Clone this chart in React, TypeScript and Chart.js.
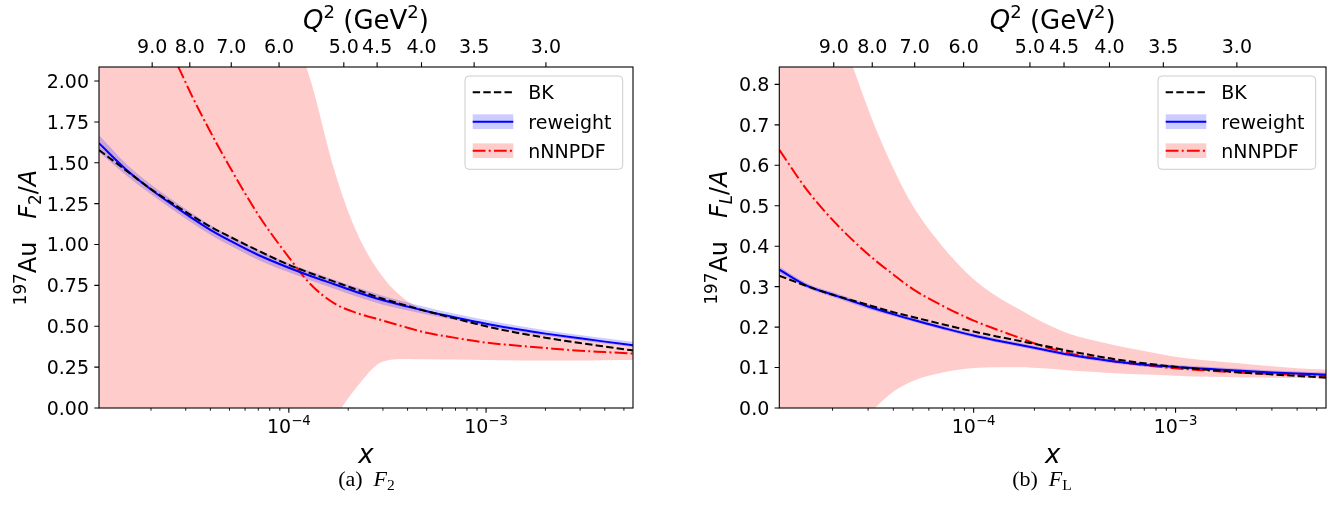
import React, { useEffect, useRef } from "react";
import { Chart, registerables } from "chart.js";

Chart.register(...registerables);

// ---------------- data ----------------
const X_GRID = [
  1.09e-5, 1.5e-5, 2e-5, 3e-5, 4e-5, 5e-5, 7e-5, 1e-4, 1.3e-4, 1.7e-4, 2.2e-4,
  3e-4, 4e-4, 5e-4, 7e-4, 1e-3, 1.5e-3, 2e-3, 3e-3, 4e-3, 5.56e-3,
];

// F2 panel
const F2_BK = [1.578, 1.452, 1.339, 1.2, 1.109, 1.049, 0.962, 0.876, 0.823, 0.773, 0.725, 0.668, 0.625, 0.592, 0.547, 0.5, 0.456, 0.43, 0.397, 0.376, 0.352];
const F2_RW = [1.62, 1.458, 1.337, 1.188, 1.09, 1.025, 0.936, 0.858, 0.806, 0.757, 0.71, 0.659, 0.62, 0.592, 0.554, 0.516, 0.478, 0.455, 0.426, 0.406, 0.384];
const F2_RW_HI = [1.67, 1.493, 1.367, 1.218, 1.12, 1.055, 0.966, 0.886, 0.834, 0.785, 0.738, 0.687, 0.646, 0.617, 0.576, 0.538, 0.5, 0.476, 0.447, 0.427, 0.405];
const F2_RW_LO = [1.565, 1.423, 1.307, 1.158, 1.06, 0.995, 0.906, 0.83, 0.778, 0.729, 0.682, 0.631, 0.596, 0.572, 0.538, 0.501, 0.464, 0.442, 0.414, 0.394, 0.373];
const F2_NN = [3.7, 3.1, 2.5, 1.99, 1.69, 1.478, 1.182, 0.922, 0.752, 0.64, 0.582, 0.535, 0.491, 0.46, 0.429, 0.4, 0.38, 0.367, 0.35, 0.342, 0.333];
const F2_NN_HI = [4.5, 4.5, 4.5, 4.5, 4.5, 4.5, 3.0, 2.38, 1.99, 1.456, 1.08, 0.801, 0.653, 0.6, 0.548, 0.51, 0.472, 0.45, 0.42, 0.4, 0.378];
const F2_NN_LO = [-1.5, -1.4, -1.3, -1.2, -1.1, -1.0, -0.8, -0.45, -0.26, -0.064, 0.125, 0.285, 0.3, 0.298, 0.296, 0.293, 0.29, 0.29, 0.29, 0.292, 0.293];

// FL panel
const FL_BK = [0.327, 0.301, 0.28, 0.255, 0.237, 0.225, 0.207, 0.189, 0.177, 0.1655, 0.1545, 0.1405, 0.129, 0.1205, 0.1105, 0.1018, 0.0938, 0.0888, 0.083, 0.0793, 0.075];
const FL_RW = [0.342, 0.302, 0.2805, 0.251, 0.232, 0.218, 0.1985, 0.179, 0.167, 0.1558, 0.1445, 0.1315, 0.1215, 0.1148, 0.107, 0.1015, 0.0962, 0.0925, 0.0878, 0.085, 0.0825];
const FL_RW_HI = [0.35, 0.308, 0.2865, 0.257, 0.237, 0.223, 0.2035, 0.184, 0.172, 0.1608, 0.1495, 0.1365, 0.1265, 0.1198, 0.112, 0.1065, 0.1012, 0.0975, 0.0928, 0.09, 0.0875];
const FL_RW_LO = [0.334, 0.296, 0.2745, 0.245, 0.227, 0.213, 0.1935, 0.174, 0.162, 0.1508, 0.1395, 0.1265, 0.1165, 0.1098, 0.102, 0.0965, 0.0912, 0.0875, 0.0828, 0.08, 0.0775];
const FL_NN = [0.638, 0.538, 0.465, 0.38, 0.33, 0.294, 0.253, 0.216, 0.194, 0.173, 0.153, 0.135, 0.123, 0.115, 0.106, 0.098, 0.092, 0.088, 0.084, 0.082, 0.079];
const FL_NN_HI = [1.5, 1.23, 1.0, 0.74, 0.593, 0.5, 0.4, 0.318, 0.276, 0.243, 0.212, 0.183, 0.166, 0.155, 0.141, 0.127, 0.117, 0.111, 0.103, 0.098, 0.095];
const FL_NN_LO = [-0.4, -0.3, -0.15, -0.02, 0.04, 0.067, 0.088, 0.099, 0.101, 0.101, 0.098, 0.093, 0.089, 0.086, 0.083, 0.08, 0.077, 0.076, 0.075, 0.074, 0.073];

// axes / ticks
const X_MIN = 1.09e-5;
const X_MAX = 5.56e-3;
const X_MAJOR = [1e-4, 1e-3];
const X_MAJOR_EXP = ["\u22124", "\u22123"];
const X_MINOR = [
  2e-5, 3e-5, 4e-5, 5e-5, 6e-5, 7e-5, 8e-5, 9e-5,
  2e-4, 3e-4, 4e-4, 5e-4, 6e-4, 7e-4, 8e-4, 9e-4,
  2e-3, 3e-3, 4e-3, 5e-3,
];
const Q2_TICK_X = [2.028e-5, 3.146e-5, 5.105e-5, 8.92e-5, 1.9e-4, 2.803e-4, 4.706e-4, 8.7e-4, 2.012e-3];
const Q2_TICK_LABELS = ["9.0", "8.0", "7.0", "6.0", "5.0", "4.5", "4.0", "3.5", "3.0"];
const F2_Y_TICKS = [0, 0.25, 0.5, 0.75, 1.0, 1.25, 1.5, 1.75, 2.0];
const FL_Y_TICKS = [0, 0.1, 0.2, 0.3, 0.4, 0.5, 0.6, 0.7, 0.8];
const F2_Y_MAX = 2.086;
const FL_Y_MAX = 0.843;
const LEGEND_LABELS = ["BK", "reweight", "nNNPDF"];

// ---------------- drawing helpers ----------------
const SANS = '"DejaVu Sans"';
const SERIF = '"Liberation Serif"';
const TICK_FS = 19;

type Run = { t: string; size: number; italic?: boolean; dy?: number; family?: string };

function fontOf(r: Run) {
  return `${r.italic ? "italic " : ""}${r.size}px ${r.family || SANS}`;
}
function runsWidth(ctx: CanvasRenderingContext2D, runs: Run[]) {
  let w = 0;
  for (const r of runs) {
    ctx.font = fontOf(r);
    w += ctx.measureText(r.t).width;
  }
  return w;
}
function drawRuns(ctx: CanvasRenderingContext2D, runs: Run[], x: number, y: number, align: "left" | "center" | "right") {
  const w = runsWidth(ctx, runs);
  let cx = align === "center" ? x - w / 2 : align === "right" ? x - w : x;
  ctx.textAlign = "left";
  ctx.textBaseline = "alphabetic";
  for (const r of runs) {
    ctx.font = fontOf(r);
    ctx.fillText(r.t, cx, y + (r.dy || 0));
    cx += ctx.measureText(r.t).width;
  }
}

type PanelDef = {
  id: string;
  bk: number[];
  rw: number[];
  rwHi: number[];
  rwLo: number[];
  nn: number[];
  nnHi: number[];
  nnLo: number[];
  yMax: number;
  yTicks: number[];
  yDecimals: number;
  yLabel: Run[];
  yLabelGap: number;
  caption: Run[];
  captionX: number;
  padding: { left: number; right: number; top: number; bottom: number };
};

const BK_DASH = [7.4, 3.2];
const NN_DASH = [12.8, 3.2, 2, 3.2];

function makePlugin(p: PanelDef) {
  return {
    id: "mpl-" + p.id,
    afterDraw(chart: any) {
      const ctx: CanvasRenderingContext2D = chart.ctx;
      const a = chart.chartArea;
      const xs = chart.scales.x;
      const ys = chart.scales.y;
      const cxMid = (a.left + a.right) / 2;
      ctx.save();
      ctx.fillStyle = "#000";
      ctx.strokeStyle = "#000";
      ctx.setLineDash([]);

      // major ticks
      ctx.lineWidth = 1.1;
      ctx.beginPath();
      for (const v of p.yTicks) {
        const py = ys.getPixelForValue(v);
        ctx.moveTo(a.left - 4.7, py);
        ctx.lineTo(a.left, py);
      }
      for (const v of X_MAJOR) {
        const px = xs.getPixelForValue(v);
        ctx.moveTo(px, a.bottom);
        ctx.lineTo(px, a.bottom + 4.7);
      }
      for (const v of Q2_TICK_X) {
        const px = xs.getPixelForValue(v);
        ctx.moveTo(px, a.top - 4.7);
        ctx.lineTo(px, a.top);
      }
      ctx.stroke();
      // minor ticks
      ctx.lineWidth = 0.9;
      ctx.beginPath();
      for (const v of X_MINOR) {
        const px = xs.getPixelForValue(v);
        ctx.moveTo(px, a.bottom);
        ctx.lineTo(px, a.bottom + 2.7);
      }
      ctx.stroke();
      // frame
      ctx.lineWidth = 1.1;
      ctx.strokeRect(a.left, a.top, a.right - a.left, a.bottom - a.top);

      // y tick labels
      ctx.font = `${TICK_FS}px ${SANS}`;
      ctx.textAlign = "right";
      ctx.textBaseline = "alphabetic";
      for (const v of p.yTicks) {
        const py = ys.getPixelForValue(v);
        ctx.fillText(v.toFixed(p.yDecimals), a.left - 10, py + 0.3645 * TICK_FS);
      }
      // bottom tick labels 10^-n
      X_MAJOR.forEach((v, i) => {
        const px = xs.getPixelForValue(v);
        const runs: Run[] = [
          { t: "10", size: TICK_FS },
          { t: X_MAJOR_EXP[i], size: 13.3, dy: -8.3 },
        ];
        drawRuns(ctx, runs, px, a.bottom + 25.3, "center");
      });
      // top tick labels Q^2
      ctx.font = `${TICK_FS}px ${SANS}`;
      ctx.textAlign = "center";
      Q2_TICK_X.forEach((v, i) => {
        const px = xs.getPixelForValue(v);
        ctx.fillText(Q2_TICK_LABELS[i], px, a.top - 14);
      });
      // top axis title
      drawRuns(
        ctx,
        [
          { t: "Q", size: 26, italic: true },
          { t: "2", size: 18, dy: -11 },
          { t: " (GeV", size: 26 },
          { t: "2", size: 18, dy: -11 },
          { t: ")", size: 26 },
        ],
        cxMid,
        a.top - 38.5,
        "center"
      );
      // bottom axis title
      drawRuns(ctx, [{ t: "x", size: 26, italic: true }], cxMid, a.bottom + 55, "center");
      // y axis title (rotated)
      ctx.save();
      ctx.translate(a.left - p.yLabelGap, (a.top + a.bottom) / 2);
      ctx.rotate(-Math.PI / 2);
      drawRuns(ctx, p.yLabel, 0, 0, "center");
      ctx.restore();
      // caption
      drawRuns(ctx, p.caption, p.captionX, a.bottom + 78, "center");

      // legend
      const bw = 157.7;
      const bh = 93.3;
      const bx = a.right - 10.3 - bw;
      const by = a.top + 9;
      const r = 4;
      ctx.beginPath();
      ctx.moveTo(bx + r, by);
      ctx.arcTo(bx + bw, by, bx + bw, by + bh, r);
      ctx.arcTo(bx + bw, by + bh, bx, by + bh, r);
      ctx.arcTo(bx, by + bh, bx, by, r);
      ctx.arcTo(bx, by, bx + bw, by, r);
      ctx.closePath();
      ctx.fillStyle = "rgba(255,255,255,0.8)";
      ctx.fill();
      ctx.strokeStyle = "#cccccc";
      ctx.lineWidth = 1;
      ctx.stroke();

      const hx0 = bx + 7.7;
      const hx1 = bx + 48.3;
      const rows = [by + 16.3, by + 45.7, by + 74.7];
      // BK
      ctx.lineWidth = 2;
      ctx.lineCap = "butt";
      ctx.strokeStyle = "#000000";
      ctx.setLineDash(BK_DASH);
      ctx.beginPath();
      ctx.moveTo(hx0, rows[0]);
      ctx.lineTo(hx1, rows[0]);
      ctx.stroke();
      // reweight
      ctx.setLineDash([]);
      ctx.fillStyle = "rgba(0,0,255,0.2)";
      ctx.fillRect(hx0, rows[1] - 7.35, hx1 - hx0, 14.7);
      ctx.strokeStyle = "#0000ff";
      ctx.beginPath();
      ctx.moveTo(hx0, rows[1]);
      ctx.lineTo(hx1, rows[1]);
      ctx.stroke();
      // nNNPDF
      ctx.fillStyle = "rgba(255,0,0,0.2)";
      ctx.fillRect(hx0, rows[2] - 7.35, hx1 - hx0, 14.7);
      ctx.strokeStyle = "#ff0000";
      ctx.setLineDash(NN_DASH);
      ctx.beginPath();
      ctx.moveTo(hx0, rows[2]);
      ctx.lineTo(hx1, rows[2]);
      ctx.stroke();
      ctx.setLineDash([]);
      // legend text
      ctx.fillStyle = "#000";
      ctx.font = `${TICK_FS}px ${SANS}`;
      ctx.textAlign = "left";
      LEGEND_LABELS.forEach((lab, i) => {
        ctx.fillText(lab, bx + 63.3, rows[i] + 0.3645 * TICK_FS);
      });
      ctx.restore();
    },
  };
}

function pts(ys: number[]) {
  return X_GRID.map((x, i) => ({ x, y: ys[i] }));
}

function buildConfig(p: PanelDef): any {
  const line = (data: number[], color: string, dash: number[], width: number) => ({
    data: pts(data),
    borderColor: color,
    borderWidth: width,
    borderDash: dash,
    borderCapStyle: "butt",
    pointRadius: 0,
    fill: false,
    cubicInterpolationMode: "monotone",
  });
  const edge = (data: number[], fill: any, bg: string) => ({
    data: pts(data),
    borderWidth: 0,
    borderColor: "rgba(0,0,0,0)",
    backgroundColor: bg,
    pointRadius: 0,
    fill,
    cubicInterpolationMode: "monotone",
  });
  return {
    type: "line",
    data: {
      datasets: [
        line(p.bk, "#000000", BK_DASH, 2),
        line(p.rw, "#0000ff", [], 2),
        line(p.nn, "#ff0000", NN_DASH, 2),
        edge(p.rwHi, "+1", "rgba(0,0,255,0.2)"),
        edge(p.rwLo, false, "rgba(0,0,0,0)"),
        edge(p.nnHi, "+1", "rgba(255,0,0,0.2)"),
        edge(p.nnLo, false, "rgba(0,0,0,0)"),
      ],
    },
    options: {
      animation: false,
      responsive: false,
      devicePixelRatio: 1,
      layout: { padding: p.padding },
      scales: {
        x: { type: "logarithmic", min: X_MIN, max: X_MAX, display: false },
        y: { type: "linear", min: 0, max: p.yMax, display: false },
      },
      plugins: {
        legend: { display: false },
        tooltip: { enabled: false },
      },
      events: [],
    },
    plugins: [makePlugin(p)],
  };
}

const PANEL_F2: PanelDef = {
  id: "f2",
  bk: F2_BK,
  rw: F2_RW,
  rwHi: F2_RW_HI,
  rwLo: F2_RW_LO,
  nn: F2_NN,
  nnHi: F2_NN_HI,
  nnLo: F2_NN_LO,
  yMax: F2_Y_MAX,
  yTicks: F2_Y_TICKS,
  yDecimals: 2,
  yLabel: [
    { t: "197", size: 16.8, dy: -10 },
    { t: "Au   ", size: 24 },
    { t: "F", size: 24, italic: true },
    { t: "2", size: 16.8, dy: 5 },
    { t: "/", size: 24 },
    { t: "A", size: 24, italic: true },
  ],
  yLabelGap: 63,
  caption: [
    { t: "(a)  ", size: 22, family: SERIF },
    { t: "F", size: 22, italic: true, family: SERIF },
    { t: "2", size: 15.5, dy: 4, family: SERIF },
  ],
  captionX: 366.5,
  padding: { left: 99, right: 32, top: 67, bottom: 108 },
};

const PANEL_FL: PanelDef = {
  id: "fl",
  bk: FL_BK,
  rw: FL_RW,
  rwHi: FL_RW_HI,
  rwLo: FL_RW_LO,
  nn: FL_NN,
  nnHi: FL_NN_HI,
  nnLo: FL_NN_LO,
  yMax: FL_Y_MAX,
  yTicks: FL_Y_TICKS,
  yDecimals: 1,
  yLabel: [
    { t: "197", size: 16.8, dy: -10 },
    { t: "Au   ", size: 24 },
    { t: "F", size: 24, italic: true },
    { t: "L", size: 16.8, italic: true, dy: 5 },
    { t: "/", size: 24 },
    { t: "A", size: 24, italic: true },
  ],
  yLabelGap: 52,
  caption: [
    { t: "(b)  ", size: 22, family: SERIF },
    { t: "F", size: 22, italic: true, family: SERIF },
    { t: "L", size: 15.5, dy: 4, family: SERIF },
  ],
  captionX: 377,
  padding: { left: 114.3, right: 4, top: 67, bottom: 108 },
};

function Panel({ def, left }: { def: PanelDef; left: number }) {
  const ref = useRef<HTMLCanvasElement | null>(null);
  useEffect(() => {
    if (!ref.current) return;
    const chart = new Chart(ref.current, buildConfig(def));
    return () => chart.destroy();
  }, [def]);
  return (
    <canvas
      ref={ref}
      width={665}
      height={516}
      style={{ position: "absolute", left, top: 0, width: 665, height: 516 }}
    />
  );
}

export default function App() {
  return (
    <div style={{ position: "absolute", left: 0, top: 0, width: 1330, height: 516, background: "#fff" }}>
      <Panel def={PANEL_F2} left={0} />
      <Panel def={PANEL_FL} left={665} />
    </div>
  );
}
